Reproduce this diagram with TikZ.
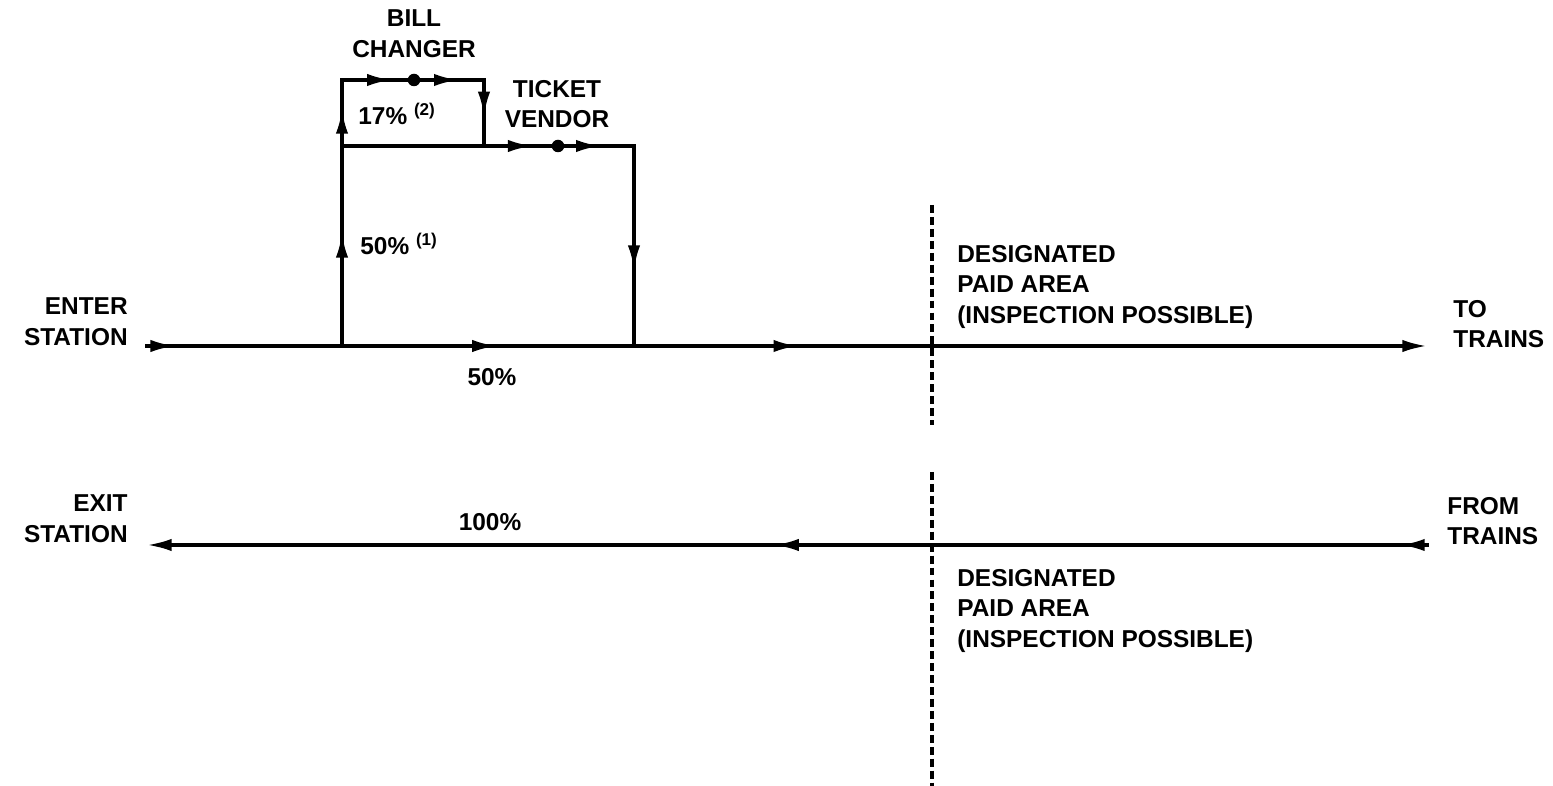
\documentclass[tikz,border=0pt]{standalone}
\usepackage{fontspec}
\setmainfont{Liberation Sans}
\usetikzlibrary{arrows.meta, decorations.markings}

\begin{document}
\begin{tikzpicture}[x=0.02cm, y=-0.02cm,
  flow/.style={line width=1.9pt, line cap=rect},
  mid/.style={postaction={decorate,decoration={markings,
      mark=at position #1 with {\arrow{Latex[length=14pt,width=7pt]}}}}},
  tip/.style={-{Latex[length=14pt,width=7pt]}},
  dot/.style={circle,fill=black,inner sep=0pt,minimum size=0.25cm},
  fence/.style={line width=2pt,dash pattern=on 4.5pt off 2.3pt},
  lbl/.style={font=\fontsize{13.9}{17.5}\selectfont\bfseries,inner sep=0pt}]
  \useasboundingbox (0,0) rectangle (1553,786);

  % entering flow
  \coordinate (es) at (147,346);
  \coordinate (j1) at (342,346);
  \coordinate (j2) at (634,346);
  \coordinate (te) at (1427,346);
  \coordinate (tv1) at (342,146);
  \coordinate (tv2) at (634,146);
  \coordinate (bc1) at (342,80);
  \coordinate (bc2) at (484,80);
  \coordinate (bc3) at (484,146);
  \node[dot] (bc) at (414,80) {};
  \node[dot] (tv) at (558,146) {};

  \draw[flow,mid=0.144] (es) -- (j1);
  \draw[flow,mid=0.53] (j1) -- (j2);
  \draw[flow,tip,mid=0.207] (j2) -- (te);
  \draw[flow,mid=0.565] (j1) -- (tv1);
  \draw[flow,mid=0.56] (tv1) -- (bc1);
  \draw[flow,mid=0.76] (bc1) -- (bc);
  \draw[flow,mid=0.6] (bc) -- (bc2);
  \draw[flow,mid=0.55] (bc2) -- (bc3);
  \draw[flow,mid=0.91] (tv1) -- (tv);
  \draw[flow,mid=0.52] (tv) -- (tv2);
  \draw[flow,mid=0.62] (tv2) -- (j2);

  % exiting flow
  \coordinate (ft) at (1427,545);
  \coordinate (xs) at (147,545);
  \draw[flow,tip,mid=0.021,mid=0.51] (ft) -- (xs);

  % paid area boundary
  \coordinate (pa1) at (932,205);
  \coordinate (pa2) at (932,425);
  \coordinate (pb1) at (932,472);
  \coordinate (pb2) at (932,786);
  \draw[fence] (pa1) -- (pa2);
  \draw[fence] (pb1) -- (pb2);

  % labels
  \node[lbl,anchor=east,align=right] (enter) at (128,322) {ENTER\\STATION};
  \node[lbl,anchor=east,align=right] (exit) at (128,519) {EXIT\\STATION};
  \node[lbl,anchor=west,align=left] (totr) at (1453,324) {TO\\TRAINS};
  \node[lbl,anchor=west,align=left] (fromtr) at (1447,521) {FROM\\TRAINS};
  \node[lbl,align=center] (bill) at (414,34) {BILL\\CHANGER};
  \node[lbl,align=center] (vend) at (557,104) {TICKET\\VENDOR};
  \node[lbl,anchor=base west] (p17) at (358,125) {17\% \textsuperscript{(2)}};
  \node[lbl,anchor=base west] (p50a) at (360,255) {50\% \textsuperscript{(1)}};
  \node[lbl,anchor=base] (p50b) at (492,386) {50\%};
  \node[lbl,anchor=base] (p100) at (490,531) {100\%};
  \node[lbl,anchor=west,align=left] (paid1) at (957,287)
    {DESIGNATED\\PAID AREA\\(INSPECTION POSSIBLE)};
  \node[lbl,anchor=west,align=left] (paid2) at (957,611)
    {DESIGNATED\\PAID AREA\\(INSPECTION POSSIBLE)};
\end{tikzpicture}
\end{document}
